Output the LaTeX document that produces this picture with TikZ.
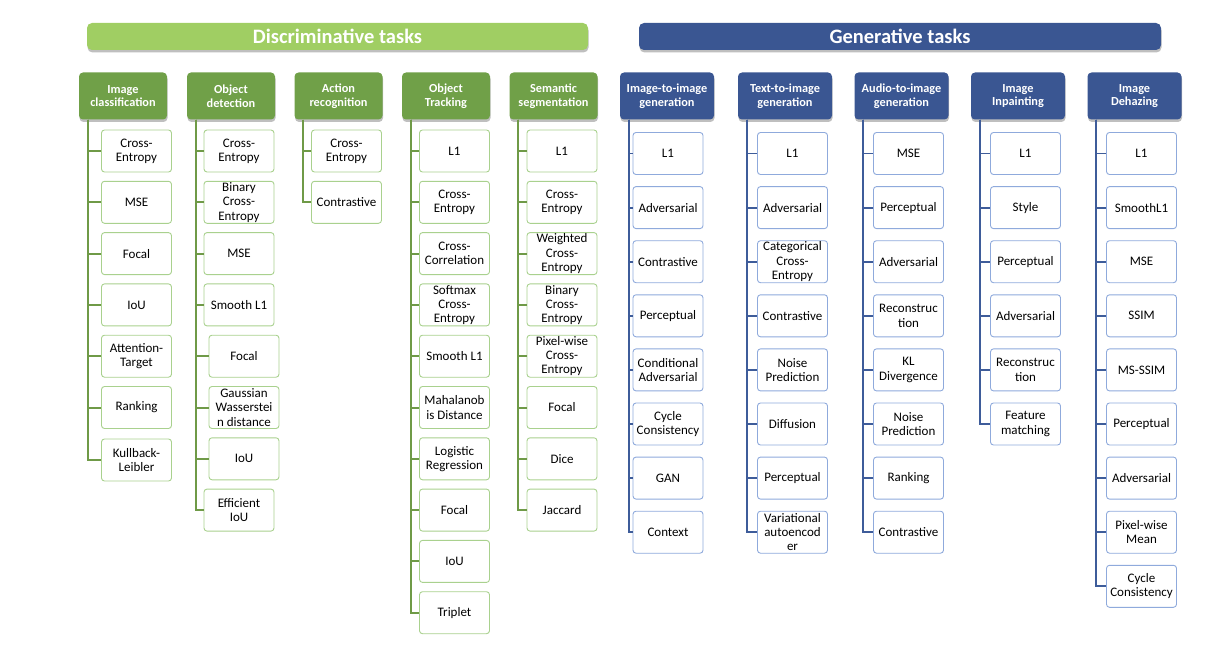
\documentclass[tikz,border=0pt]{standalone}
\usepackage{fontspec}
\setmainfont{Carlito}
\usepackage{xcolor}
\usepackage{tikz}
\usetikzlibrary{shadows}

\definecolor{bannergreen}{HTML}{A0CE63}
\definecolor{taskgreen}{HTML}{70A048}
\definecolor{linegreen}{HTML}{6F9A47}
\definecolor{boxgreen}{HTML}{A9D18E}
\definecolor{taskblue}{HTML}{3A5692}
\definecolor{lineblue}{HTML}{3E5C9A}
\definecolor{boxblue}{HTML}{8FAADC}

\tikzset{
    shade/.style={drop shadow={shadow xshift=0.5pt, shadow yshift=-2.5pt, fill=black, opacity=0.25}},
    banner/.style={rounded corners=5pt, minimum height=27pt, inner sep=0pt, text=white, font=\bfseries\fontsize{20.5}{24}\selectfont, shade},
    task/.style={rounded corners=4pt, minimum height=47pt, inner sep=1pt, align=center, text=white, font=\bfseries\fontsize{12.3}{13.6}\selectfont, shade},
    taskG/.style={task, fill=taskgreen, minimum width=88pt},
    taskB/.style={task, fill=taskblue, minimum width=94pt},
    loss/.style={rounded corners=3pt, minimum width=70pt, minimum height=42pt, inner sep=1pt, align=center, fill=white, line width=0.9pt, font=\fontsize{13}{14.3}\selectfont},
    lossG/.style={loss, draw=boxgreen},
    lossB/.style={loss, draw=boxblue},
    gtick/.style={draw=linegreen, line width=2pt, to path={|- (\tikztotarget)}},
    btick/.style={draw=lineblue, line width=1.8pt, to path={|- (\tikztotarget)}},
}

\begin{document}
\begin{tikzpicture}[x=1pt, y=-1pt]
    \useasboundingbox (0,0) rectangle (1218,666);

    % banners
    \node[banner, fill=bannergreen, minimum width=501pt] (disc) at (337.5, 36.5) {Discriminative tasks};
    \node[banner, fill=taskblue, minimum width=522pt] (gen) at (900, 36.5) {Generative tasks};

    % discriminative tasks
    \node[taskG] (ic) at (123, 96) {Image\\classification};
    \node[taskG] (od) at (231, 96) {Object\\detection};
    \node[taskG] (ar) at (338.5, 96) {Action\\recognition};
    \node[taskG] (ot) at (446, 96) {Object\\Tracking};
    \node[taskG] (ss) at (553.5, 96) {Semantic\\segmentation};

    % generative tasks
    \node[taskB] (ii) at (667, 96) {Image-to-image\\generation};
    \node[taskB] (ti) at (785, 96) {Text-to-image\\generation};
    \node[taskB] (ai) at (901.5, 96) {Audio-to-image\\generation};
    \node[taskB] (ip) at (1018, 96) {Image\\Inpainting};
    \node[taskB] (dh) at (1134.5, 96) {Image\\Dehazing};

    % image classification
    \node[lossG] (ic1) at (136.5, 151) {Cross-\\Entropy};
    \node[lossG] (ic2) at (136.5, 202.3) {MSE};
    \node[lossG] (ic3) at (136.5, 253.6) {Focal};
    \node[lossG] (ic4) at (136.5, 304.9) {IoU};
    \node[lossG] (ic5) at (136.5, 356.2) {Attention-\\Target};
    \node[lossG] (ic6) at (136.5, 407.5) {Ranking};
    \node[lossG] (ic7) at (136.5, 460) {Kullback-\\Leibler};

    % object detection
    \node[lossG] (od1) at (239, 151) {Cross-\\Entropy};
    \node[lossG] (od2) at (239, 202.3) {Binary\\Cross-\\Entropy};
    \node[lossG] (od3) at (239, 253.6) {MSE};
    \node[lossG] (od4) at (239, 304.9) {Smooth L1};
    \node[lossG] (od5) at (244, 356.2) {Focal};
    \node[lossG] (od6) at (244, 407.5) {Gaussian\\Wasserstei\\n distance};
    \node[lossG] (od7) at (244, 458.8) {IoU};
    \node[lossG] (od8) at (239, 510.1) {Efficient\\IoU};

    % action recognition
    \node[lossG] (ar1) at (346.5, 151) {Cross-\\Entropy};
    \node[lossG] (ar2) at (346.5, 202.3) {Contrastive};

    % object tracking
    \node[lossG] (ot1) at (454.5, 151) {L1};
    \node[lossG] (ot2) at (454.5, 202.3) {Cross-\\Entropy};
    \node[lossG] (ot3) at (454.5, 253.6) {Cross-\\Correlation};
    \node[lossG] (ot4) at (454.5, 304.9) {Softmax\\Cross-\\Entropy};
    \node[lossG] (ot5) at (454.5, 356.2) {Smooth L1};
    \node[lossG] (ot6) at (454.5, 407.5) {Mahalanob\\is Distance};
    \node[lossG] (ot7) at (454.5, 458.8) {Logistic\\Regression};
    \node[lossG] (ot8) at (454.5, 510.1) {Focal};
    \node[lossG] (ot9) at (454.5, 561.4) {IoU};
    \node[lossG] (ot10) at (454.5, 612.7) {Triplet};

    % semantic segmentation
    \node[lossG] (ss1) at (562, 151) {L1};
    \node[lossG] (ss2) at (562, 202.3) {Cross-\\Entropy};
    \node[lossG] (ss3) at (562, 253.6) {Weighted\\Cross-\\Entropy};
    \node[lossG] (ss4) at (562, 304.9) {Binary\\Cross-\\Entropy};
    \node[lossG] (ss5) at (562, 356.2) {Pixel-wise\\Cross-\\Entropy};
    \node[lossG] (ss6) at (562, 407.5) {Focal};
    \node[lossG] (ss7) at (562, 458.8) {Dice};
    \node[lossG] (ss8) at (562, 510.1) {Jaccard};

    % image-to-image generation
    \node[lossB] (ii1) at (668, 153.5) {L1};
    \node[lossB] (ii2) at (668, 207.6) {Adversarial};
    \node[lossB] (ii3) at (668, 261.7) {Contrastive};
    \node[lossB] (ii4) at (668, 315.8) {Perceptual};
    \node[lossB] (ii5) at (668, 369.9) {Conditional\\Adversarial};
    \node[lossB] (ii6) at (668, 424) {Cycle\\Consistency};
    \node[lossB] (ii7) at (668, 478.1) {GAN};
    \node[lossB] (ii8) at (668, 532.2) {Context};

    % text-to-image generation
    \node[lossB] (ti1) at (792.5, 153.5) {L1};
    \node[lossB] (ti2) at (792.5, 207.6) {Adversarial};
    \node[lossB] (ti3) at (792.5, 261.7) {Categorical\\Cross-\\Entropy};
    \node[lossB] (ti4) at (792.5, 315.8) {Contrastive};
    \node[lossB] (ti5) at (792.5, 369.9) {Noise\\Prediction};
    \node[lossB] (ti6) at (792.5, 424) {Diffusion};
    \node[lossB] (ti7) at (792.5, 478.1) {Perceptual};
    \node[lossB] (ti8) at (792.5, 532.2) {Variational\\autoencod\\er};

    % audio-to-image generation
    \node[lossB] (ai1) at (908.5, 153.5) {MSE};
    \node[lossB] (ai2) at (908.5, 207.6) {Perceptual};
    \node[lossB] (ai3) at (908.5, 261.7) {Adversarial};
    \node[lossB] (ai4) at (908.5, 315.8) {Reconstruc\\tion};
    \node[lossB] (ai5) at (908.5, 369.9) {KL\\Divergence};
    \node[lossB] (ai6) at (908.5, 424) {Noise\\Prediction};
    \node[lossB] (ai7) at (908.5, 478.1) {Ranking};
    \node[lossB] (ai8) at (908.5, 532.2) {Contrastive};

    % image inpainting
    \node[lossB] (ip1) at (1025.5, 153.5) {L1};
    \node[lossB] (ip2) at (1025.5, 207.6) {Style};
    \node[lossB] (ip3) at (1025.5, 261.7) {Perceptual};
    \node[lossB] (ip4) at (1025.5, 315.8) {Adversarial};
    \node[lossB] (ip5) at (1025.5, 369.9) {Reconstruc\\tion};
    \node[lossB] (ip6) at (1025.5, 424) {Feature\\matching};

    % image dehazing
    \node[lossB] (dh1) at (1141.5, 153.5) {L1};
    \node[lossB] (dh2) at (1141.5, 207.6) {SmoothL1};
    \node[lossB] (dh3) at (1141.5, 261.7) {MSE};
    \node[lossB] (dh4) at (1141.5, 315.8) {SSIM};
    \node[lossB] (dh5) at (1141.5, 369.9) {MS-SSIM};
    \node[lossB] (dh6) at (1141.5, 424) {Perceptual};
    \node[lossB] (dh7) at (1141.5, 478.1) {Adversarial};
    \node[lossB] (dh8) at (1141.5, 532.2) {Pixel-wise\\Mean};
    \node[lossB] (dh9) at (1141.5, 586.3) {Cycle\\Consistency};

    % trunks and ticks
    \path ([xshift=9pt]ic.south west) edge[gtick] (ic1.west) edge[gtick] (ic2.west) edge[gtick] (ic3.west) edge[gtick] (ic4.west)
        edge[gtick] (ic5.west) edge[gtick] (ic6.west) edge[gtick] (ic7.west);
    \path ([xshift=9pt]od.south west) edge[gtick] (od1.west) edge[gtick] (od2.west) edge[gtick] (od3.west) edge[gtick] (od4.west)
        edge[gtick] (od5.west) edge[gtick] (od6.west) edge[gtick] (od7.west) edge[gtick] (od8.west);
    \path ([xshift=9pt]ar.south west) edge[gtick] (ar1.west) edge[gtick] (ar2.west);
    \path ([xshift=9pt]ot.south west) edge[gtick] (ot1.west) edge[gtick] (ot2.west) edge[gtick] (ot3.west) edge[gtick] (ot4.west)
        edge[gtick] (ot5.west) edge[gtick] (ot6.west) edge[gtick] (ot7.west) edge[gtick] (ot8.west) edge[gtick] (ot9.west) edge[gtick] (ot10.west);
    \path ([xshift=9pt]ss.south west) edge[gtick] (ss1.west) edge[gtick] (ss2.west) edge[gtick] (ss3.west) edge[gtick] (ss4.west)
        edge[gtick] (ss5.west) edge[gtick] (ss6.west) edge[gtick] (ss7.west) edge[gtick] (ss8.west);

    \path ([xshift=9pt]ii.south west) edge[btick] (ii1.west) edge[btick] (ii2.west) edge[btick] (ii3.west) edge[btick] (ii4.west)
        edge[btick] (ii5.west) edge[btick] (ii6.west) edge[btick] (ii7.west) edge[btick] (ii8.west);
    \path ([xshift=9pt]ti.south west) edge[btick] (ti1.west) edge[btick] (ti2.west) edge[btick] (ti3.west) edge[btick] (ti4.west)
        edge[btick] (ti5.west) edge[btick] (ti6.west) edge[btick] (ti7.west) edge[btick] (ti8.west);
    \path ([xshift=9pt]ai.south west) edge[btick] (ai1.west) edge[btick] (ai2.west) edge[btick] (ai3.west) edge[btick] (ai4.west)
        edge[btick] (ai5.west) edge[btick] (ai6.west) edge[btick] (ai7.west) edge[btick] (ai8.west);
    \path ([xshift=9pt]ip.south west) edge[btick] (ip1.west) edge[btick] (ip2.west) edge[btick] (ip3.west) edge[btick] (ip4.west)
        edge[btick] (ip5.west) edge[btick] (ip6.west);
    \path ([xshift=9pt]dh.south west) edge[btick] (dh1.west) edge[btick] (dh2.west) edge[btick] (dh3.west) edge[btick] (dh4.west)
        edge[btick] (dh5.west) edge[btick] (dh6.west) edge[btick] (dh7.west) edge[btick] (dh8.west) edge[btick] (dh9.west);
\end{tikzpicture}
\end{document}
